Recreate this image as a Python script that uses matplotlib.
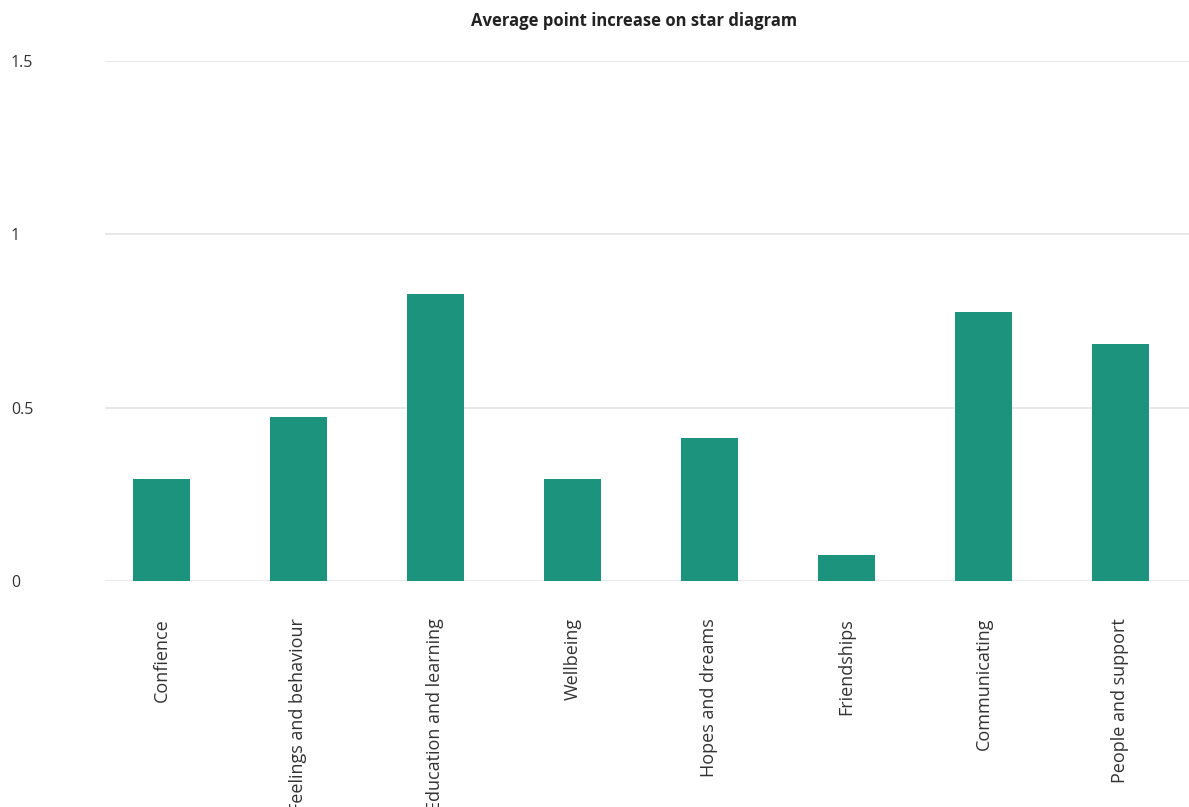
import matplotlib
matplotlib.use("Agg")
import matplotlib.pyplot as plt
import numpy as np

categories = ["Confience", "Feelings and behaviour", "Education and learning",
              "Wellbeing", "Hopes and dreams", "Friendships", "Communicating",
              "People and support"]
values = [0.295, 0.474, 0.829, 0.295, 0.413, 0.075, 0.775, 0.685]
yticks = [0, 0.5, 1, 1.5]
ytick_labels = ["0", "0.5", "1", "1.5"]
title = "Average point increase on star diagram"

W, H, DPI = 1189, 807, 100
plt.rcParams['font.family'] = ['Open Sans', 'DejaVu Sans']

fig = plt.figure(figsize=(W / DPI, H / DPI), dpi=DPI)
ax = fig.add_axes([105 / W, (H - 581) / H, (W - 105) / W, (581 - 61) / H])

x = np.arange(len(categories))
ax.bar(x, values, width=0.416, color="#1c937d", zorder=3)

ax.set_xlim(-0.412, 7.5)
ax.set_ylim(0, 1.5)
ax.set_yticks(yticks)
ax.set_yticklabels(ytick_labels, fontsize=11.5, color="#333333")
for lab in ax.get_yticklabels():
    lab.set_horizontalalignment("left")
    lab.set_verticalalignment("center_baseline")
ax.tick_params(axis="y", length=0, pad=94 * 72 / DPI)
ax.set_xticks(x)
ax.set_xticklabels(categories, rotation=90, fontsize=13, color="#333333",
                   va="top", ha="center")
ax.tick_params(axis="x", length=0, pad=37 * 72 / DPI)

ax.grid(axis="y", color="#e6e6e6", linewidth=1.3, zorder=0)
for s in ax.spines.values():
    s.set_visible(False)

fig.text(634 / W, 1 - 21 / H, title, ha="center", va="center",
         fontsize=12, fontweight="bold", color="#222222")

fig.savefig("out.png", dpi=DPI)
